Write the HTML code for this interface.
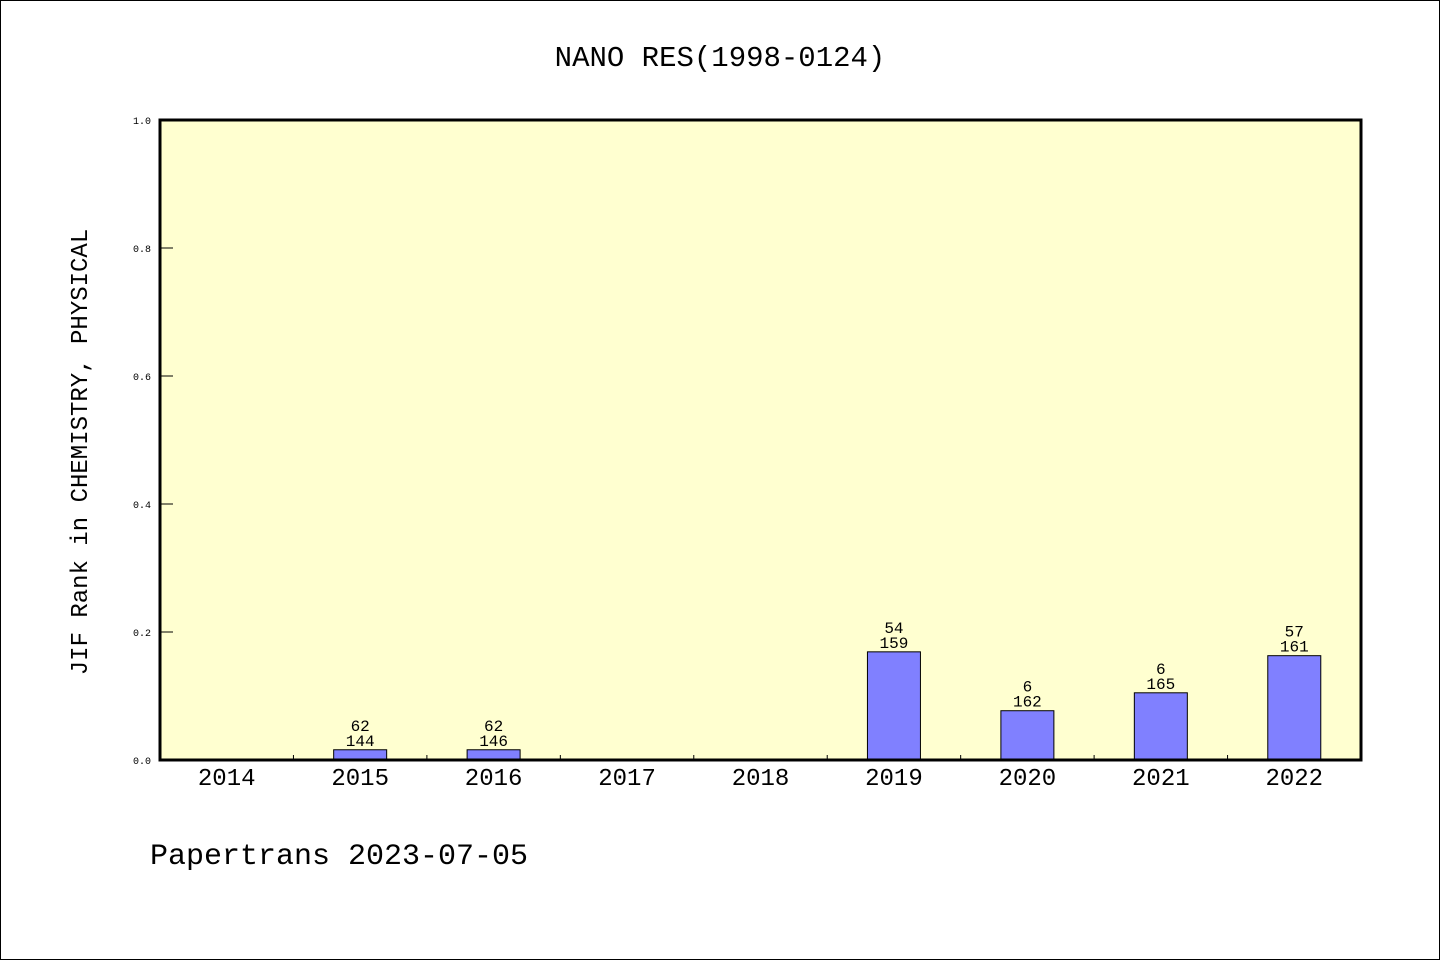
<!DOCTYPE html>
<html><head><meta charset="utf-8"><style>
html,body{margin:0;padding:0;background:#fff}
svg{display:block}
text{font-family:"WenQuanYi Zen Hei","Liberation Mono",monospace;fill:#000}
</style></head><body>
<svg width="1440" height="960">
<rect x="0.5" y="0.5" width="1439" height="959" fill="#fff" stroke="#000"/>
<text x="720" y="66" font-size="29" text-anchor="middle">NANO RES(1998-0124)</text>
<rect x="160" y="120" width="1201" height="640" fill="#ffffd0"/>
<g id="bars"></g>
<g id="axes"></g>
<rect x="160" y="120" width="1201" height="640" fill="none" stroke="#000" stroke-width="3"/>
<text transform="translate(87,452) rotate(-90)" font-size="24" text-anchor="middle">JIF Rank in CHEMISTRY, PHYSICAL</text>
<text x="150" y="864" font-size="30">Papertrans 2023-07-05</text>
</svg>
<script>
const categories=["2014","2015","2016","2017","2018","2019","2020","2021","2022"];
const values=[0,0.016,0.016,0,0,0.169,0.077,0.105,0.163];
const rankLabels=["","62","62","","","54","6","6","57"];
const totalLabels=["","144","146","","","159","162","165","161"];
const yTicks=[0,0.2,0.4,0.6,0.8,1.0];
const yTickLabels=["0.0","0.2","0.4","0.6","0.8","1.0"];
const NS="http://www.w3.org/2000/svg";
const X0=160,X1=1361,Y0=760,Y1=120;
const band=(X1-X0)/categories.length;
const xc=i=>X0+band*(i+0.5);
const y=v=>Y0-(v)*(Y0-Y1);
function mk(t,a,p){const e=document.createElementNS(NS,t);for(const k in a)e.setAttribute(k,a[k]);p.appendChild(e);return e;}
const bars=document.getElementById('bars'),axes=document.getElementById('axes');
categories.forEach((c,i)=>{
  const v=values[i];
  if(v>0){
    const r=mk('rect',{x:xc(i)-26.5,y:y(v),width:53,height:Y0-y(v),fill:'#8080ff',stroke:'#000','stroke-width':1},bars);
    
    
  }
  if(rankLabels[i]){
    const t1=mk('text',{x:xc(i),y:y(v)-19,'font-size':16,'text-anchor':'middle'},bars);t1.textContent=rankLabels[i];
    
    
    const t2=mk('text',{x:xc(i),y:y(v)-4,'font-size':16,'text-anchor':'middle'},bars);t2.textContent=totalLabels[i];
    
    
  }
  const xl=mk('text',{x:xc(i),y:785,'font-size':24,'text-anchor':'middle'},axes);xl.textContent=c;
  
  
  if(i>0){const tk=mk('line',{x1:X0+band*i,x2:X0+band*i,y1:Y0-5,y2:Y0,stroke:'#000'},axes);
    
    }
});
yTicks.forEach((v,i)=>{
  const tk=mk('line',{x1:X0,x2:X0+13,y1:y(v),y2:y(v),stroke:'#000'},axes);
  
  
  const t=mk('text',{x:151,y:y(v)+4,'font-size':10,'text-anchor':'end'},axes);t.textContent=yTickLabels[i];
  
  
});
</script>
</body></html>
